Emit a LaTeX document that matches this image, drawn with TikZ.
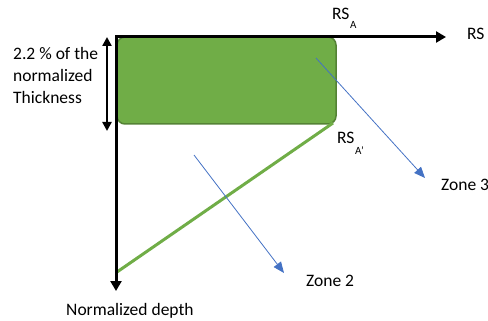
\documentclass[tikz,border=0pt]{standalone}
\usepackage{fontspec}
\setmainfont{Carlito}
\usetikzlibrary{arrows.meta}
\definecolor{gfill}{RGB}{112,173,71}
\definecolor{gedge}{RGB}{84,130,53}
\definecolor{zblue}{RGB}{68,114,196}
\tikzset{
  lbl/.style={inner sep=0pt, font=\fontsize{17.5}{22}\selectfont},
  sublbl/.style={inner sep=0pt, font=\fontsize{11}{13}\selectfont},
  axis/.style={line width=3pt, -{Triangle[length=10pt,width=11pt]}},
  zonearrow/.style={zblue, line width=0.8pt, -{Triangle[length=11pt,width=9pt]}},
  greenbox/.style={fill=gfill, draw=gedge, line width=1.5pt, rounded corners=8pt, inner sep=0pt, minimum width=219pt, minimum height=87pt},
}
\begin{document}
\begin{tikzpicture}[x=1pt,y=-1pt]
\useasboundingbox (0,0) rectangle (488,321);
% coordinates
\coordinate (O) at (116,37);
\coordinate (xstart) at (115,37);
\coordinate (xend) at (446,37);
\coordinate (yend) at (116,291);
\coordinate (ttop) at (107,37);
\coordinate (tbot) at (107,131);
\coordinate (gl1) at (333,123);
\coordinate (gl2) at (117,272);
\coordinate (z3s) at (316,58);
\coordinate (z3e) at (425,178);
\coordinate (z2s) at (194,155);
\coordinate (z2e) at (284,273);
% green box
\node[greenbox] (box) at (226.5,80.5) {};
% green line
\draw[gfill, line width=3pt] (gl1) -- (gl2);
% axes
\draw[axis] (O) -- (yend);
\draw[axis] (xstart) -- (xend);
% thickness arrow
\draw[line width=2.5pt, {Triangle[length=9pt,width=9pt]}-{Triangle[length=9pt,width=9pt]}] (ttop) -- (tbot);
% zone arrows
\draw[zonearrow] (z3s) -- (z3e);
\draw[zonearrow] (z2s) -- (z2e);
% labels
\node[lbl, anchor=west, align=left] (thk) at (13,75) {2.2 \% of the\\normalized\\Thickness};
\node[lbl, anchor=west] (rs) at (467,34) {RS};
\node[lbl, anchor=west] (rsa) at (332,14) {RS};
\node[sublbl, anchor=west] (rsasub) at (350,25) {A};
\node[lbl, anchor=west] (rsap) at (337,138) {RS};
\node[sublbl, anchor=west] (rsapsub) at (355,151) {A’};
\node[lbl, anchor=west] (z3) at (441,185) {Zone 3};
\node[lbl, anchor=west] (z2) at (306,281) {Zone 2};
\node[lbl, anchor=west] (nd) at (66,311) {Normalized depth};
\end{tikzpicture}
\end{document}
